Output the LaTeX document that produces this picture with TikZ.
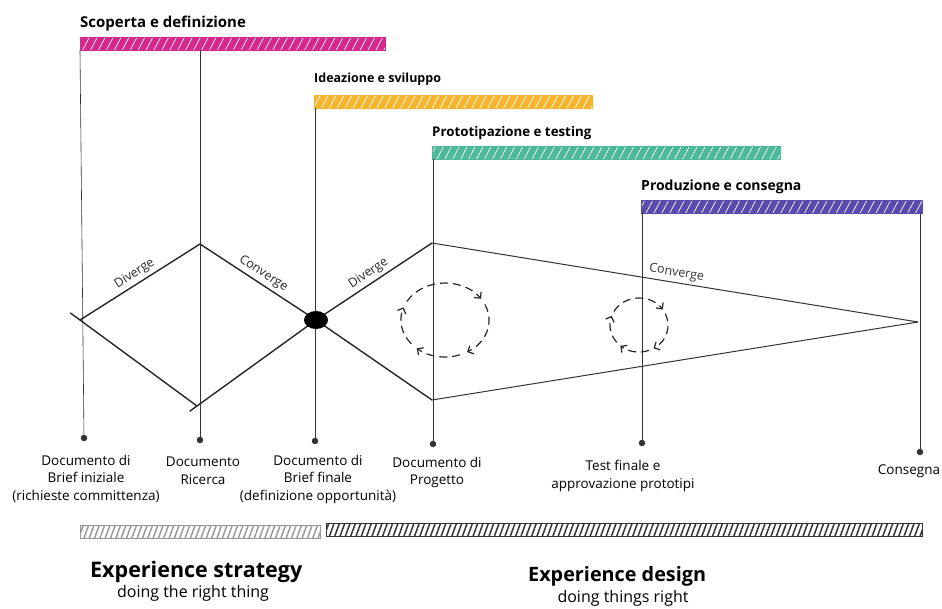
\documentclass[tikz,border=0pt]{standalone}
\usepackage{fontspec}
\setmainfont{Open Sans}
\usetikzlibrary{patterns.meta,arrows.meta,calc}
\definecolor{scoperta}{HTML}{D6278C}
\definecolor{ideazione}{HTML}{F7B52E}
\definecolor{prototipo}{HTML}{4DB89A}
\definecolor{produzione}{HTML}{5B4AAE}
\tikzset{
  phasebar/.style={fill=#1, inner sep=0pt, minimum height=13pt, anchor=north west,
    postaction={pattern={Lines[angle=62,distance=7pt,line width=0.7pt]}, pattern color=white},
    postaction={draw=#1, line width=1.2pt}},
  sidebar/.style={draw=#1, line width=1.4pt, inner sep=0pt, minimum height=13pt, anchor=north west,
    pattern={Lines[angle=70,distance=5pt,line width=1.5pt]}, pattern color=#1},
  timeline/.style={line width=0.6pt, black!80},
  flow/.style={line width=1.4pt, black!85},
  milestone/.style={circle, fill=black!80, inner sep=0pt, minimum size=6.5pt},
  doclabel/.style={align=center, anchor=north, inner sep=0pt, font=\fontsize{13.5}{17.5}\selectfont},
  phasetitle/.style={anchor=base west, inner sep=0pt, font=\fontsize{#1}{16}\selectfont\bfseries},
  edgelabel/.style={midway, above, sloped, inner sep=3pt, font=\fontsize{12.5}{14}\selectfont},
  cycledash/.style={dash pattern=on 8pt off 5pt, line width=1.2pt, black!85, -{Straight Barb[length=4.5pt,width=9pt]}}
}
\begin{document}
\begin{tikzpicture}[x=1pt,y=1pt]
\useasboundingbox (0,0) rectangle (942,-608);
% phases
\node[phasetitle=15] (t1) at (80,-27) {Scoperta e definizione};
\node[phasebar=scoperta, minimum width=305pt] (b1) at (80,-37) {};
\node[phasetitle=12.5] (t2) at (314,-82) {Ideazione e sviluppo};
\node[phasebar=ideazione, minimum width=278pt] (b2) at (314,-95) {};
\node[phasetitle=13.3] (t3) at (432,-136) {Prototipazione e testing};
\node[phasebar=prototipo, minimum width=348pt] (b3) at (432,-146) {};
\node[phasetitle=14] (t4) at (641,-190) {Produzione e consegna};
\node[phasebar=produzione, minimum width=281pt] (b4) at (641,-200) {};
% milestones
\node[milestone] (d1) at (84,-438) {};
\node[milestone] (d2) at (200,-440) {};
\node[milestone] (d3) at (315,-441) {};
\node[milestone] (d4) at (433,-444) {};
\node[milestone] (d5) at (642,-443) {};
\node[milestone] (d6) at (920,-452) {};
\draw[timeline] (b1.south west) -- (d1);
\draw[timeline] (d2 |- b1.south) -- (d2);
\draw[timeline] (d3 |- b2.south) -- (d3);
\draw[timeline] (d4 |- b3.south) -- (d4);
\draw[timeline] (d5 |- b4.south) -- (d5);
\draw[timeline] (d6 |- b4.south) -- (d6);
\node[doclabel] (l1) at (86,-455) {Documento di\\Brief iniziale\\(richieste committenza)};
\node[doclabel] (l2) at (203,-457) {Documento\\Ricerca};
\node[doclabel] (l3) at (318,-455) {Documento di\\Brief finale\\(definizione opportunità)};
\node[doclabel] (l4) at (437,-457) {Documento di\\Progetto};
\node[doclabel] (l5) at (623,-460) {Test finale e\\approvazione prototipi};
\node[doclabel] (l6) at (909,-465) {Consegna};
% double diamond
\coordinate (s) at (80,-320);
\coordinate (top1) at (200,-244);
\coordinate (bot1) at (197,-406);
\coordinate (hub) at (316,-320);
\coordinate (top2) at (432,-243);
\coordinate (bot2) at (432,-400);
\coordinate (e) at (918,-322);
\draw[flow] (s) -- (top1) node[edgelabel] {Diverge};
\draw[flow, shorten <=-12pt] (s) -- (bot1);
\draw[flow] (top1) -- (hub) node[edgelabel] {Converge};
\draw[flow, shorten <=-9pt] (bot1) -- (hub);
\draw[flow] (hub) -- (top2) node[edgelabel] {Diverge};
\draw[flow] (hub) -- (bot2);
\draw[timeline, line width=1pt] (top2) -- (e) node[edgelabel] {Converge};
\draw[timeline, line width=1pt] (bot2) -- (e);
\fill[black] (hub) ellipse (12 and 9);
% iteration loops
\coordinate (c1) at (445,-320);
\coordinate (c2) at (639,-325);
\foreach \a/\b in {150/35, 25/-60, -70/-130, -140/-200}{
  \draw[cycledash] ($(c1)+(\a:44 and 37)$) arc (\a:\b:44 and 37);
  \draw[cycledash] ($(c2)+(\a:29 and 27)$) arc (\a:\b:29 and 27);
}
% strategy / design
\node[sidebar=black!40, minimum width=240pt] (g1) at (80,-525) {};
\node[sidebar=black!80, minimum width=596pt] (g2) at (326,-523) {};
\node[anchor=base west, inner sep=0pt, font=\fontsize{21.5}{24}\selectfont\bfseries] (x1) at (90,-577) {Experience strategy};
\node[anchor=base, inner sep=0pt, font=\fontsize{16}{18}\selectfont] (y1) at (193,-597) {doing the right thing};
\node[anchor=base west, inner sep=0pt, font=\fontsize{19.8}{22}\selectfont\bfseries] (x2) at (528,-581) {Experience design};
\node[anchor=base, inner sep=0pt, font=\fontsize{16}{18}\selectfont] (y2) at (623,-602) {doing things right};
\end{tikzpicture}
\end{document}
